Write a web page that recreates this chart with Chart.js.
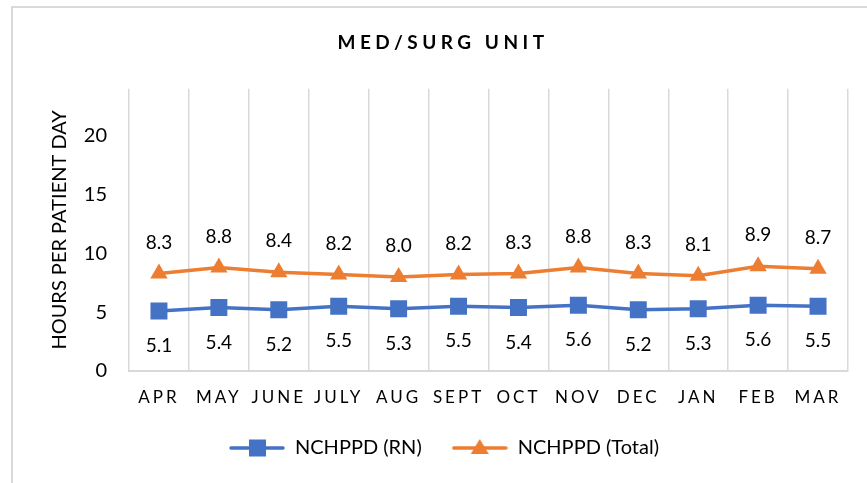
<!DOCTYPE html>
<html>
<head>
<meta charset="utf-8">
<script src="https://cdn.jsdelivr.net/npm/chart.js@4.4.0/dist/chart.umd.min.js"></script>
<style>
html,body{margin:0;padding:0;background:#fff;overflow:hidden;}
#wrap{position:relative;width:867px;height:483px;}
#frame{position:absolute;left:11px;top:6px;width:900px;height:520px;border:2px solid #d9d9d9;box-sizing:border-box;pointer-events:none;}
canvas{position:absolute;left:0;top:0;}
</style>
</head>
<body>
<div id="wrap">
<canvas id="c" width="867" height="483"></canvas>
<div id="frame"></div>
</div>
<script>
const categories = ['APR','MAY','JUNE','JULY','AUG','SEPT','OCT','NOV','DEC','JAN','FEB','MAR'];
const rnValues = [5.1,5.4,5.2,5.5,5.3,5.5,5.4,5.6,5.2,5.3,5.6,5.5];
const totalValues = [8.3,8.8,8.4,8.2,8.0,8.2,8.3,8.8,8.3,8.1,8.9,8.7];
const seriesNames = ['NCHPPD (RN)','NCHPPD (Total)'];
const chartTitle = 'MED/SURG UNIT';
const yTitle = 'HOURS PER PATIENT DAY';

const BLUE = '#4472C4', ORANGE = '#ED7D31';
const FONT = 'Lato, "Open Sans", sans-serif';

function legendIcon(color, style){
  const c = document.createElement('canvas');
  c.width = 56; c.height = 20;
  const g = c.getContext('2d');
  g.strokeStyle = color; g.lineWidth = 3.5; g.lineCap = 'round';
  g.beginPath(); g.moveTo(2,10); g.lineTo(54,10); g.stroke();
  g.fillStyle = color;
  if (style === 'rect'){ g.fillRect(20,1.5,17,17); }
  else { g.beginPath(); g.moveTo(28,1); g.lineTo(37,16); g.lineTo(19,16); g.closePath(); g.fill(); }
  return c;
}
const icons = [legendIcon(BLUE,'rect'), legendIcon(ORANGE,'triangle')];

const spacingPlugin = {
  id: 'spacing',
  afterLayout(chart){
    const xs = chart.scales.x;
    if (!xs._patched){
      const orig = xs.drawLabels.bind(xs);
      xs.drawLabels = function(area){
        const ctx = chart.ctx; ctx.save(); ctx.letterSpacing = '3px'; orig(area); ctx.restore();
      };
      xs._patched = true;
    }
    const tb = chart.titleBlock;
    if (tb){
      tb.left += 19; tb.right += 19;
      if (!tb._patched){
        const o = tb.draw.bind(tb);
        tb.draw = function(){ const ctx = chart.ctx; ctx.save(); ctx.letterSpacing = '4.5px'; o(); ctx.restore(); };
        tb._patched = true;
      }
    }
    const lg = chart.legend;
    if (lg){ lg.left += 20; lg.right += 20; lg.top -= 6; lg.bottom -= 6; }
  }
};

const labelPlugin = {
  id: 'valueLabels',
  afterDatasetsDraw(chart){
    const ctx = chart.ctx;
    ctx.save();
    ctx.font = '19px ' + FONT;
    ctx.fillStyle = '#000';
    ctx.textAlign = 'center';
    ctx.textBaseline = 'middle';
    chart.data.datasets.forEach((ds, di) => {
      const meta = chart.getDatasetMeta(di);
      meta.data.forEach((pt, i) => {
        const off = di === 0 ? 35 : -31;
        ctx.fillText(ds.data[i].toFixed(1), pt.x, pt.y + off);
      });
    });
    ctx.restore();
  }
};

new Chart(document.getElementById('c'), {
  type: 'line',
  data: {
    labels: categories,
    datasets: [
      { label: seriesNames[0], data: rnValues, borderColor: BLUE, backgroundColor: BLUE,
        borderWidth: 3.5, pointStyle: 'rect', pointRadius: 12, pointHoverRadius: 12, pointBorderWidth: 0 },
      { label: seriesNames[1], data: totalValues, borderColor: ORANGE, backgroundColor: ORANGE,
        borderWidth: 3.5, pointStyle: 'triangle', pointRadius: 10, pointHoverRadius: 10, pointBorderWidth: 0 }
    ]
  },
  options: {
    responsive: false,
    animation: false,
    events: [],
    layout: { padding: { left: 0, right: 19, top: 0, bottom: 9 } },
    plugins: {
      title: { display: true, text: chartTitle, color: '#000',
        font: { family: FONT, size: 19, weight: 'bold' }, padding: { top: 31, bottom: 35 } },
      legend: { position: 'bottom',
        labels: { usePointStyle: true, pointStyleWidth: 56, boxHeight: 17, padding: 30, color: '#000',
          font: { family: FONT, size: 20 },
          generateLabels(chart){
            return chart.data.datasets.map((ds, i) => ({
              text: ds.label, pointStyle: icons[i], fillStyle: ds.borderColor, strokeStyle: ds.borderColor,
              lineWidth: 0, hidden: false, datasetIndex: i, fontColor: '#000'
            }));
          }
        } },
      tooltip: { enabled: false }
    },
    scales: {
      x: {
        offset: true,
        grid: { offset: true, color: '#d9d9d9', lineWidth: 1.5, drawTicks: false },
        border: { color: '#d9d9d9', width: 2 },
        ticks: { color: '#000', font: { family: FONT, size: 17 }, padding: 16, maxRotation: 0, autoSkip: false },
        afterFit(s){ s.height = 43; }
      },
      y: {
        min: 0, max: 24,
        grid: { display: false, drawTicks: false },
        border: { display: false },
        ticks: { stepSize: 5, includeBounds: false, color: '#000', font: { family: FONT, size: 20 }, padding: 22 },
        title: { display: true, text: yTitle, color: '#000', font: { family: FONT, size: 20 }, padding: { top: 48, bottom: 0 } },
        afterFit(s){ s.width = 129; }
      }
    }
  },
  plugins: [spacingPlugin, labelPlugin]
});
</script>
</body>
</html>
